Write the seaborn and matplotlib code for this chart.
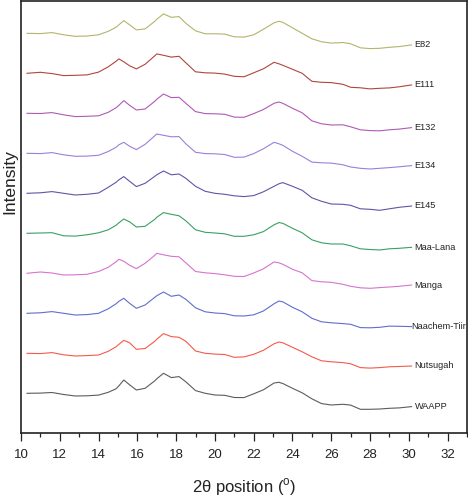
# Stacked XRD patterns of the ten samples, 2theta 10-30 deg
import numpy as np
import pandas as pd
import matplotlib
matplotlib.use("Agg")
import matplotlib.pyplot as plt
import seaborn as sns

# 2theta positions (deg) shared by all patterns
two_theta = [10.3, 11.0, 11.6, 12.2, 12.8, 13.4, 14.0, 14.5, 14.9, 15.05, 15.3, 15.6, 15.95,
             16.4, 16.9, 17.0, 17.35, 17.75, 18.15, 18.5, 19.0, 19.5, 20.0, 20.5, 21.0, 21.5,
             22.0, 22.5, 23.05, 23.3, 23.5, 24.0, 24.5, 25.0, 25.5, 26.0, 26.6, 27.0, 27.5,
             28.0, 28.5, 29.0, 29.5, 30.15]

# intensity (a.u.), each pattern relative to its own start
waapp = [0, 0.2, 0.8, -1.2, -2.7, -2.5, -1.8, 1.0, 4.5, 7.5, 13.3, 8.5, 3.3,
         5.0, 12.5, 14.5, 20.0, 15.7, 16.7, 11.5, 2.7, 0.0, -1.7, -2.0, -4.2, -4.3,
         -0.5, 3.5, 10.3, 11.0, 9.8, 5.0, 0.5, -5.5, -10.3, -11.7, -11.0, -11.8, -16.0,
         -16.0, -15.7, -15.0, -14.6, -13.3]
nutsugah = [0, -0.3, 0.7, -1.5, -2.7, -2.3, -1.7, 2.0, 6.5, 9.0, 13.0, 10.5, 4.0,
            4.8, 12.0, 14.0, 19.7, 16.7, 16.0, 12.0, 2.3, 0.0, -0.8, -1.2, -4.0, -3.6,
            -1.0, 3.0, 9.5, 11.3, 10.5, 6.0, 1.5, -3.5, -7.5, -8.5, -9.3, -10.5, -14.3,
            -14.8, -14.3, -13.5, -13.2, -12.7]
naachem_tiir = [0, 0.5, 1.7, 0.0, -1.7, -1.3, 0.0, 4.5, 9.5, 12.0, 15.0, 10.0, 5.0,
                8.3, 16.0, 17.5, 21.3, 17.0, 18.3, 14.0, 5.5, 1.5, 0.3, -0.3, -2.5, -2.7,
                -1.5, 2.3, 9.5, 12.3, 11.5, 6.0, 1.5, -5.0, -8.5, -9.5, -10.3, -11.0, -14.3,
                -14.5, -14.0, -12.8, -13.0, -13.3]
manga = [0, 1.3, 0.3, -1.7, -1.5, -1.0, 1.8, 6.0, 11.5, 14.0, 12.0, 8.0, 4.7,
         10.0, 18.0, 20.0, 18.5, 17.0, 16.5, 10.5, 1.8, 0.5, -0.3, -1.5, -3.0, -3.2,
         0.3, 4.5, 11.3, 10.5, 9.0, 4.0, 0.5, -7.3, -8.5, -9.0, -11.0, -13.0, -14.5,
         -15.0, -14.3, -13.7, -13.0, -11.7]
maa_lana = [0, 0.3, 0.6, -2.5, -2.8, -1.5, 0.5, 3.5, 8.0, 10.5, 14.3, 11.5, 6.3,
            7.0, 14.0, 16.0, 20.7, 19.0, 17.5, 12.5, 3.5, 1.0, 0.3, -0.5, -3.0, -3.0,
            -1.5, 1.7, 8.5, 10.7, 10.0, 5.0, 0.5, -6.5, -9.5, -10.7, -10.7, -12.5, -15.5,
            -16.2, -16.7, -15.5, -15.0, -14.0]
e145 = [0, 0.5, 1.7, 0.0, -1.7, -1.0, 0.3, 6.0, 11.0, 13.5, 16.7, 12.0, 6.7,
        10.0, 17.0, 18.5, 22.3, 18.5, 19.3, 15.0, 7.0, 2.0, 0.0, -1.0, -2.5, -3.3,
        -2.3, 1.5, 7.0, 9.5, 10.7, 7.0, 3.0, -4.5, -8.0, -10.7, -11.0, -12.0, -15.5,
        -16.0, -17.0, -15.5, -14.0, -12.7]
e134 = [0, -0.3, 0.7, -1.5, -3.0, -2.8, -2.0, 1.8, 6.0, 8.5, 11.0, 7.0, 3.7,
        9.0, 17.5, 19.3, 18.0, 16.5, 16.7, 9.5, 1.0, -0.3, -0.5, -1.2, -4.0, -3.8,
        -0.3, 4.5, 11.0, 9.5, 8.0, 2.0, -3.0, -8.8, -9.5, -9.8, -11.5, -13.7, -15.0,
        -15.7, -15.0, -14.3, -13.5, -12.3]
e132 = [0, -0.2, 0.7, -1.5, -3.3, -3.0, -2.5, 1.0, 5.5, 8.0, 12.7, 8.0, 3.3,
        4.3, 12.0, 14.0, 19.3, 15.7, 16.0, 10.0, 1.7, -0.3, -0.5, -1.0, -3.8, -4.0,
        -0.3, 3.8, 10.0, 11.3, 10.0, 5.0, 0.5, -7.5, -10.5, -11.7, -11.5, -13.5, -16.5,
        -17.3, -17.5, -16.5, -15.8, -14.3]
e111 = [0, 1.0, -0.3, -2.3, -2.0, -1.6, 1.2, 6.5, 12.0, 14.4, 11.5, 7.5, 4.4,
        9.0, 17.5, 19.4, 18.0, 16.2, 17.0, 10.5, 1.5, 0.5, 0.2, -0.8, -3.0, -3.5,
        0.5, 4.5, 11.0, 9.5, 8.0, 4.0, 0.0, -8.0, -9.0, -9.3, -11.0, -14.0, -14.5,
        -15.6, -15.0, -14.6, -13.5, -11.6]
e82 = [0, -0.3, 0.7, -1.5, -3.0, -2.7, -1.5, 2.0, 6.0, 8.5, 12.7, 8.5, 3.4,
       4.4, 12.0, 14.0, 19.4, 16.0, 16.7, 10.0, 2.5, -0.5, -0.5, -0.8, -3.5, -3.8,
       -1.5, 4.0, 10.5, 12.0, 11.0, 5.5, 0.0, -5.5, -8.5, -9.8, -9.2, -10.5, -14.5,
       -15.3, -15.0, -14.0, -13.3, -11.6]

# bottom to top
samples = ["WAAPP", "Nutsugah", "Naachem-Tiir", "Manga", "Maa-Lana",
           "E145", "E134", "E132", "E111", "E82"]
patterns = [waapp, nutsugah, naachem_tiir, manga, maa_lana, e145, e134, e132, e111, e82]
colors = ["#5c5c5c", "#f45a4a", "#5f6ecd", "#d674cc", "#3c9f63",
          "#5e56a6", "#9a80d8", "#b05ab4", "#b0463c", "#b4b46c"]

step = 40  # vertical offset between patterns

rows = []
for i, (name, vals) in enumerate(zip(samples, patterns)):
    for x, v in zip(two_theta, vals):
        rows.append({"sample": name, "two_theta": x, "intensity": v + i * step})
df = pd.DataFrame(rows)

sns.set_theme(style="ticks")
plt.rcParams["font.family"] = ["Liberation Sans", "DejaVu Sans"]
plt.rcParams["mathtext.fontset"] = "custom"
plt.rcParams["mathtext.rm"] = "Liberation Sans"

fig = plt.figure(figsize=(4.68, 5.0), dpi=100)
ax = fig.add_axes([21 / 468, 67 / 500, 446 / 468, 432 / 500])

sns.lineplot(data=df, x="two_theta", y="intensity", hue="sample",
             palette=dict(zip(samples, colors)), hue_order=samples,
             estimator=None, sort=False, linewidth=0.8, legend=False, ax=ax)

for i, (name, vals) in enumerate(zip(samples, patterns)):
    xpos = two_theta[-1] + (0.0 if name == "Naachem-Tiir" else 0.15)
    ax.text(xpos, vals[-1] + i * step, name, ha="left", va="center",
            fontsize=6.6, color="#222222")

ax.set_xlim(10, 33)
ax.set_ylim(-39.7, 392.3)
ax.set_xticks(np.arange(10, 33, 2))
ax.set_xticks(np.arange(11, 34, 2), minor=True)
ax.set_yticks([])
ax.tick_params(axis="x", which="major", direction="out", length=5.8, width=0.9,
               color="#222222", pad=6, labelsize=9.5, labelcolor="#222222")
ax.tick_params(axis="x", which="minor", direction="out", length=3.2, width=0.9,
               color="#222222")
for sp in ax.spines.values():
    sp.set_color("#222222")
    sp.set_linewidth(1.2)

ax.set_xlabel(r"2θ position ($^{\mathrm{o}}$)", fontsize=12, color="#222222", labelpad=11)
ax.set_ylabel("Intensity", fontsize=12.5, color="#222222")
ax.yaxis.set_label_coords(-0.008, 0.583)

fig.savefig("out.png", dpi=100)
